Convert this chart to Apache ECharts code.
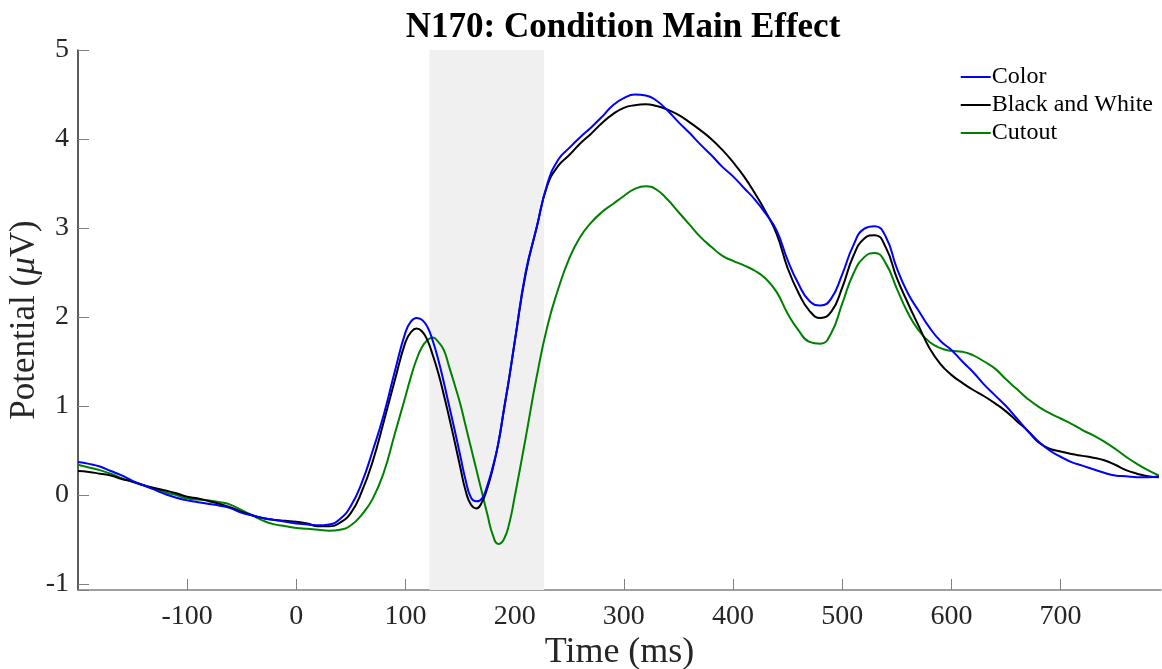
<!DOCTYPE html>
<html>
<head>
<meta charset="utf-8">
<script src="https://cdn.jsdelivr.net/npm/echarts@6/dist/echarts.min.js"></script>
<style>
html, body { margin: 0; padding: 0; background: #fff; }
#chart { width: 1162px; height: 669px; }
</style>
</head>
<body>
<div id="chart"></div>
<script>
// time points (ms): 10 ms steps, 5 ms steps through the N170 window
var times = [];
var t;
for (t = -200; t <= 100; t += 10) times.push(t);
for (t = 105; t <= 200; t += 5) times.push(t);
for (t = 210; t <= 790; t += 10) times.push(t);

var colorVals = [
  0.37, 0.35, 0.32, 0.27, 0.22, 0.16, 0.11, 0.06, 0.01, -0.03,
  -0.06, -0.08, -0.10, -0.12, -0.15, -0.20, -0.23, -0.26, -0.28, -0.30,
  -0.32, -0.33, -0.34, -0.33, -0.27, -0.12, 0.14, 0.50, 0.90, 1.38,
  1.83,
  1.95, 1.99, 1.97, 1.89, 1.73, 1.52, 1.27, 1.00, 0.73, 0.45,
  0.17, -0.03, -0.07, -0.04, 0.11, 0.32, 0.58, 0.95, 1.32, 1.72,
  2.50, 3.00, 3.50, 3.77, 3.90, 4.02, 4.13, 4.25, 4.38,
  4.46, 4.50, 4.49, 4.43, 4.32, 4.19, 4.07, 3.94, 3.82, 3.69,
  3.58, 3.45, 3.32, 3.16, 2.97, 2.64, 2.37, 2.18, 2.13, 2.21,
  2.48, 2.80, 2.99, 3.02, 2.90, 2.55, 2.27, 2.07, 1.88, 1.73,
  1.63, 1.50, 1.38, 1.24, 1.12, 1.00, 0.86, 0.72, 0.60, 0.50,
  0.43, 0.37, 0.33, 0.29, 0.25, 0.22, 0.21, 0.20, 0.20, 0.21
];
var bwVals = [
  0.27, 0.26, 0.24, 0.22, 0.18, 0.15, 0.11, 0.08, 0.05, 0.02,
  -0.02, -0.04, -0.07, -0.10, -0.14, -0.19, -0.23, -0.26, -0.28, -0.29,
  -0.30, -0.32, -0.35, -0.35, -0.31, -0.20, 0.04, 0.38, 0.82, 1.28,
  1.72,
  1.83, 1.87, 1.84, 1.74, 1.57, 1.37, 1.13, 0.87, 0.60, 0.32,
  0.05, -0.11, -0.15, -0.08, 0.08, 0.30, 0.58, 0.95, 1.32, 1.72,
  2.48, 3.00, 3.48, 3.70, 3.82, 3.95, 4.06, 4.18, 4.28,
  4.35, 4.38, 4.39, 4.37, 4.33, 4.27, 4.19, 4.10, 4.00, 3.88,
  3.74, 3.58, 3.39, 3.18, 2.93, 2.55, 2.27, 2.07, 1.99, 2.06,
  2.33, 2.68, 2.88, 2.92, 2.78, 2.44, 2.16, 1.90, 1.65, 1.47,
  1.35, 1.26, 1.18, 1.11, 1.03, 0.94, 0.83, 0.72, 0.59, 0.52,
  0.49, 0.46, 0.44, 0.42, 0.39, 0.34, 0.28, 0.24, 0.21, 0.20
];
var cutoutVals = [
  0.34, 0.31, 0.28, 0.24, 0.19, 0.15, 0.11, 0.07, 0.03, 0.00,
  -0.04, -0.05, -0.06, -0.08, -0.11, -0.17, -0.23, -0.29, -0.33, -0.35,
  -0.37, -0.38, -0.39, -0.40, -0.39, -0.34, -0.22, -0.04, 0.25, 0.68,
  1.11,
  1.33, 1.52, 1.66, 1.74, 1.77, 1.72, 1.63, 1.44, 1.24, 1.03,
  0.78, 0.53, 0.28, 0.03, -0.22, -0.45, -0.55, -0.50, -0.32, -0.02,
  0.64, 1.32, 1.90, 2.32, 2.66, 2.90, 3.06, 3.18, 3.27,
  3.36, 3.44, 3.47, 3.43, 3.32, 3.18, 3.04, 2.90, 2.79, 2.69,
  2.63, 2.58, 2.52, 2.43, 2.28, 2.04, 1.85, 1.72, 1.70, 1.82,
  2.15, 2.48, 2.67, 2.72, 2.60, 2.32, 2.05, 1.85, 1.72, 1.65,
  1.62, 1.61, 1.57, 1.50, 1.42, 1.30, 1.19, 1.08, 0.99, 0.92,
  0.86, 0.80, 0.73, 0.67, 0.60, 0.52, 0.43, 0.35, 0.28, 0.22
];
var seriesNames = ['Color', 'Black and White', 'Cutout'];
var seriesColors = ['#0000ff', '#000000', '#008000'];
var shadeWindow = [122, 227];

function pairs(vals) {
  return times.map(function (t, i) { return [t, vals[i]]; });
}

var chart = echarts.init(document.getElementById('chart'));
var serif = 'Liberation Serif';

var series = [colorVals, bwVals, cutoutVals].map(function (vals, i) {
  var s = {
    name: seriesNames[i],
    type: 'line',
    data: pairs(vals),
    smooth: 0.5,
    showSymbol: false,
    symbol: 'none',
    lineStyle: { color: seriesColors[i], width: 2 },
    itemStyle: { color: seriesColors[i] },
    z: 3 - i
  };
  if (i === 0) {
    s.markArea = {
      silent: true,
      itemStyle: { color: '#f0f0f0' },
      data: [[{ xAxis: shadeWindow[0] }, { xAxis: shadeWindow[1] }]]
    };
  }
  return s;
});

var options = {
  animation: false,
  backgroundColor: '#ffffff',
  title: {
    text: 'N170: Condition Main Effect',
    left: 618,
    top: 5,
    textAlign: 'center',
    textStyle: { fontFamily: serif, fontWeight: 'bold', fontSize: 35, color: '#000' }
  },
  legend: {
    orient: 'vertical',
    right: 4,
    top: 60,
    itemWidth: 30,
    itemHeight: 2,
    itemGap: 4,
    icon: 'rect',
    textStyle: { fontFamily: serif, fontSize: 24, color: '#000', padding: [0, 0, 0, -4] },
    data: seriesNames
  },
  grid: { left: 78, right: 1, top: 50, bottom: 79, containLabel: false, outerBoundsMode: 'none' },
  xAxis: {
    type: 'value',
    min: -200,
    max: 792,
    interval: 100,
    name: 'Time (ms)',
    nameLocation: 'middle',
    nameGap: 45,
    nameMoveOverlap: false,
    nameTextStyle: { fontFamily: serif, fontSize: 36, color: '#262626' },
    axisLine: { onZero: false, lineStyle: { color: '#808080', width: 1.5 } },
    axisTick: { inside: true, length: 11, lineStyle: { color: '#808080' } },
    axisLabel: {
      fontFamily: serif, fontSize: 28, color: '#262626', margin: 13,
      showMinLabel: false, showMaxLabel: false,
      formatter: function (v) { return v % 100 === 0 && v > -200 ? String(v) : ''; }
    },
    splitLine: { show: false }
  },
  yAxis: {
    type: 'value',
    min: -1.067,
    max: 5,
    splitNumber: 6,
    name: '{a|Potential (}{b|μ}{a|V)}',
    nameLocation: 'middle',
    nameGap: 36,
    nameMoveOverlap: false,
    nameTextStyle: {
      rich: {
        a: { fontFamily: serif, fontSize: 35, color: '#262626' },
        b: { fontFamily: serif, fontSize: 35, fontStyle: 'italic', color: '#262626' }
      }
    },
    axisLine: { show: true, onZero: false, lineStyle: { color: '#262626', width: 1.5 } },
    axisTick: { inside: true, length: 11, lineStyle: { color: '#808080' } },
    axisLabel: {
      fontFamily: serif, fontSize: 28, color: '#262626', margin: 9,
      formatter: function (v) { return Math.abs(v - Math.round(v)) < 1e-6 ? String(Math.round(v)) : ''; }
    },
    splitLine: { show: false }
  },
  series: series
};

chart.setOption(options);
window.onresize = function () {
  chart.resize();
};
</script>
</body>
</html>
